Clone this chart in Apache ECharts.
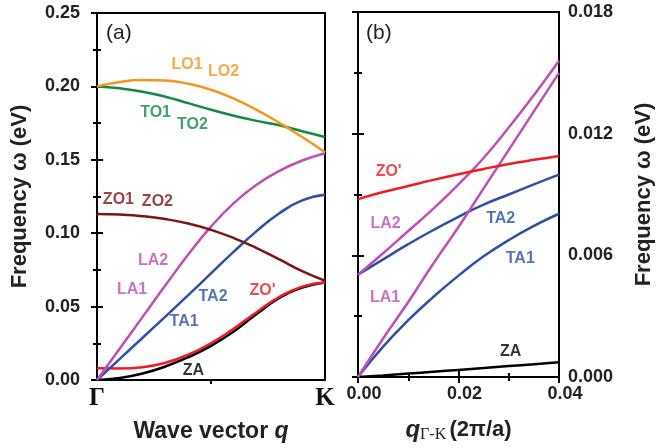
<!DOCTYPE html>
<html>
<head>
<meta charset="utf-8">
<script src="https://cdn.jsdelivr.net/npm/echarts@6/dist/echarts.min.js"></script>
<style>
  html, body { margin: 0; padding: 0; background: #fff; }
  #chart { width: 660px; height: 448px; }
</style>
</head>
<body>
<div id="chart"></div>
<script>
// (a) Γ -> K, path fraction
const kPath = [0, 0.1, 0.2, 0.3, 0.4, 0.5, 0.6, 0.7, 0.8, 0.9, 1.0];
const lo = [0.2000, 0.2030, 0.2043, 0.2040, 0.2018, 0.1977, 0.1916, 0.1840, 0.1752, 0.1655, 0.1552];
const to = [0.2000, 0.1987, 0.1964, 0.1930, 0.1886, 0.1841, 0.1800, 0.1765, 0.1735, 0.1695, 0.1655];
const zo = [0.1131, 0.1127, 0.1116, 0.1096, 0.1066, 0.1023, 0.0967, 0.0899, 0.0821, 0.0741, 0.0676];
const la = [0, 0.0215, 0.043, 0.0645, 0.0855, 0.1045, 0.1205, 0.133, 0.1425, 0.1495, 0.1545];
const ta = [0, 0.0144, 0.0288, 0.0432, 0.0578, 0.0726, 0.0874, 0.1014, 0.1136, 0.1224, 0.1262];
const zoP = [0.0080, 0.0079, 0.0087, 0.0117, 0.0172, 0.0250, 0.0350, 0.0462, 0.0566, 0.0636, 0.0664];
const za = [0, 0.0014, 0.0044, 0.0092, 0.0155, 0.0233, 0.0331, 0.0449, 0.0559, 0.0629, 0.0664];

// (b) small q near K
const qSmall = [0, 0.005, 0.01, 0.015, 0.02, 0.025, 0.03, 0.035, 0.04];
const zoPb = [0.00877, 0.00912, 0.00942, 0.00972, 0.0100, 0.01026, 0.0105, 0.01071, 0.0109];
const la2b = [0.00505, 0.0061, 0.0072, 0.0083, 0.0095, 0.0108, 0.0123, 0.0139, 0.0156];
const la1b = [0, 0.0019, 0.0037, 0.0056, 0.0074, 0.0093, 0.0112, 0.0131, 0.0150];
const ta2b = [0.00505, 0.0058, 0.00655, 0.00725, 0.0079, 0.0085, 0.0090, 0.0095, 0.00998];
const ta1b = [0, 0.0015, 0.0028, 0.00395, 0.0050, 0.00595, 0.00675, 0.00745, 0.00805];
const zab = [0, 0.00008, 0.00017, 0.00026, 0.00035, 0.00044, 0.00054, 0.00063, 0.00073];

// curve names (text, x, y) in data units
const notesA = [
  ['LO1', 0.395, 0.2146, '#f7941d'], ['LO2', 0.555, 0.210, '#f7941d'],
  ['TO1', 0.257, 0.182, '#108a45'], ['TO2', 0.419, 0.174, '#108a45'],
  ['ZO1', 0.094, 0.1226, '#7b1518'], ['ZO2', 0.265, 0.1216, '#7b1518'],
  ['LA2', 0.246, 0.081, '#c04fb4'], ['LA1', 0.154, 0.0613, '#c04fb4'],
  ['TA2', 0.509, 0.0565, '#3050a6'], ['TA1', 0.382, 0.0398, '#3050a6'],
  ["ZO'", 0.726, 0.061, '#ee1c24'], ['ZA', 0.423, 0.0061, '#000']
];
const notesB = [
  ["ZO'", 0.0061, 0.01015, '#ee1c24'], ['LA2', 0.0055, 0.00758, '#c04fb4'],
  ['TA2', 0.0284, 0.0078, '#3050a6'], ['TA1', 0.0323, 0.00585, '#3050a6'],
  ['LA1', 0.0054, 0.00394, '#c04fb4'], ['ZA', 0.0304, 0.00125, '#000']
];

const SANS = 'Liberation Sans';
const SERIF = 'Liberation Serif';

const pair = (xs, ys) => xs.map((x, i) => [x, ys[i]]);

const curve = (xs, ys, color, g) => ({
  type: 'line',
  xAxisIndex: g * 2,
  yAxisIndex: g * 2,
  data: pair(xs, ys),
  showSymbol: false,
  smooth: 0.5,
  lineStyle: { color: color, width: 2.5 },
  silent: true,
  z: 3
});

const notes = (list, g) => ({
  type: 'scatter',
  xAxisIndex: g * 2,
  yAxisIndex: g * 2,
  symbolSize: 0,
  silent: true,
  z: 5,
  data: list.map(n => ({
    value: [n[1], n[2]],
    label: {
      show: true, position: 'inside', formatter: n[0],
      color: n[3], fontFamily: SANS, fontWeight: 'bold', fontSize: 16
    }
  }))
});

const tickLabel = { fontFamily: SANS, fontWeight: 'bold', fontSize: 18, color: '#222' };
const tick = { show: true, inside: true, length: 6, lineStyle: { color: '#000', width: 2 } };
const minor = { show: true, splitNumber: 2, length: 4, lineStyle: { color: '#000', width: 2 } };
const hidden = { show: false };
const titleFont = { fontFamily: SANS, fontWeight: 'bold', fontSize: 22, color: '#222' };

const chart = echarts.init(document.getElementById('chart'));

chart.setOption({
  animation: false,
  grid: [
    { left: 97, top: 13, width: 228, height: 367, show: true, borderColor: '#000', borderWidth: 2 },
    { left: 358, top: 12, width: 201, height: 368, show: true, borderColor: '#000', borderWidth: 2 }
  ],
  xAxis: [
    {
      gridIndex: 0, type: 'value', min: 0, max: 1, interval: 1,
      axisLine: hidden, axisTick: { show: false, inside: true }, splitLine: hidden,
      axisLabel: {
        showMinLabel: true, showMaxLabel: true, margin: 6,
        formatter: v => (v === 0 ? 'Γ' : 'K'),
        fontFamily: SERIF, fontWeight: 'bold', fontSize: 25, color: '#111'
      },
      name: '{a|Wave vector }{q|q}', nameLocation: 'middle', nameGap: 40,
      nameTextStyle: {
        rich: {
          a: { fontFamily: SANS, fontWeight: 'bold', fontSize: 23, color: '#222' },
          q: { fontFamily: SANS, fontWeight: 'bold', fontStyle: 'italic', fontSize: 23, color: '#222' }
        }
      }
    },
    {
      gridIndex: 0, type: 'value', position: 'top', min: 0, max: 1, interval: 1,
      axisLine: hidden, axisTick: { show: false, inside: true }, minorTick: minor,
      axisLabel: hidden, splitLine: hidden
    },
    {
      gridIndex: 1, type: 'value', min: 0, max: 0.04, interval: 0.02,
      axisLine: hidden, axisTick: tick, minorTick: minor, splitLine: hidden,
      axisLabel: Object.assign({ formatter: v => v.toFixed(2), margin: 8, padding: [0, 0, 0, 12] }, tickLabel),
      name: '{q|q}{s|Γ-K} {b|(2π/a)}', nameLocation: 'middle', nameGap: 40,
      nameTextStyle: {
        rich: {
          q: { fontFamily: SANS, fontWeight: 'bold', fontStyle: 'italic', fontSize: 24, color: '#222' },
          s: { fontFamily: SERIF, fontSize: 16, color: '#222', padding: [10, 0, 0, 0] },
          b: { fontFamily: SANS, fontWeight: 'bold', fontSize: 22, color: '#222' }
        }
      }
    },
    {
      gridIndex: 1, type: 'value', position: 'top', min: 0, max: 0.04, interval: 0.02,
      axisLine: hidden, axisTick: tick, minorTick: minor, axisLabel: hidden, splitLine: hidden
    }
  ],
  yAxis: [
    {
      gridIndex: 0, type: 'value', min: 0, max: 0.25, interval: 0.05,
      axisLine: hidden, axisTick: tick, minorTick: minor, splitLine: hidden,
      axisLabel: Object.assign({ formatter: v => v.toFixed(2), margin: 17 }, tickLabel),
      name: 'Frequency ω (eV)', nameLocation: 'middle', nameGap: 66, nameRotate: 90,
      nameTextStyle: titleFont
    },
    {
      gridIndex: 0, type: 'value', position: 'right', min: 0, max: 0.25, interval: 0.05,
      axisLine: hidden, axisTick: tick, minorTick: minor, axisLabel: hidden, splitLine: hidden
    },
    {
      gridIndex: 1, type: 'value', min: 0, max: 0.018, interval: 0.006,
      axisLine: hidden, axisTick: tick, minorTick: minor, axisLabel: hidden, splitLine: hidden
    },
    {
      gridIndex: 1, type: 'value', position: 'right', min: 0, max: 0.018, interval: 0.006,
      axisLine: hidden, axisTick: tick, minorTick: minor, splitLine: hidden,
      axisLabel: Object.assign({ formatter: v => v.toFixed(3), margin: 9 }, tickLabel),
      name: 'Frequency ω (eV)', nameLocation: 'middle', nameGap: 74, nameRotate: 90,
      nameTextStyle: titleFont
    }
  ],
  graphic: [
    { type: 'text', left: 106, top: 23, style: { text: '(a)', font: '21px "Liberation Sans"', fill: '#222' } },
    { type: 'text', left: 366, top: 23, style: { text: '(b)', font: '21px "Liberation Sans"', fill: '#222' } }
  ],
  series: [
    curve(kPath, za, '#000', 0),
    curve(kPath, zoP, '#ee1c24', 0),
    curve(kPath, ta, '#3050a6', 0),
    curve(kPath, la, '#c04fb4', 0),
    curve(kPath, zo, '#7b1518', 0),
    curve(kPath, to, '#108a45', 0),
    curve(kPath, lo, '#f7941d', 0),
    notes(notesA, 0),
    curve(qSmall, zab, '#000', 1),
    curve(qSmall, ta1b, '#3050a6', 1),
    curve(qSmall, ta2b, '#3050a6', 1),
    curve(qSmall, la1b, '#c04fb4', 1),
    curve(qSmall, la2b, '#c04fb4', 1),
    curve(qSmall, zoPb, '#ee1c24', 1),
    notes(notesB, 1)
  ]
});
</script>
</body>
</html>
